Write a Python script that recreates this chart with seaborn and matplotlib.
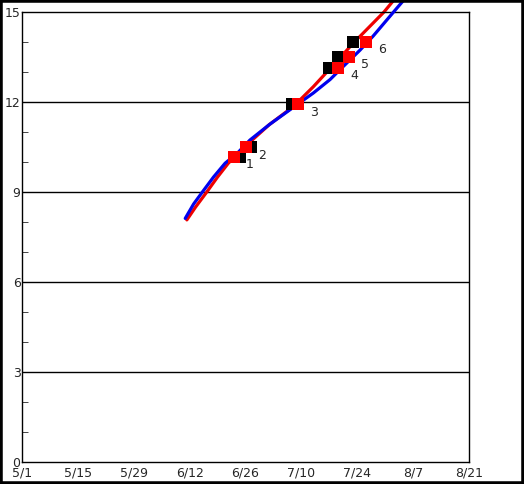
import matplotlib
matplotlib.use("Agg")
import matplotlib.pyplot as plt
import pandas as pd
import seaborn as sns

# x values are days after 5/1
BLUE_DAYS = [40.9, 43.0, 45.2, 48.0, 50.9, 54.0, 57.1, 62.0, 68.8, 73.0, 77.2,
             80.0, 84.7, 88.0, 93.1, 96.0]
BLUE_VALUES = [8.12, 8.6, 9.0, 9.5, 9.96, 10.3, 10.73, 11.25, 11.9, 12.3, 12.75,
               13.12, 13.73, 14.2, 15.0, 15.45]

RED_DAYS = [41.3, 43.5, 46.3, 49.0, 51.7, 53.5, 57.0, 62.0, 68.0, 73.0, 76.4,
            79.3, 83.0, 90.7, 93.5]
RED_VALUES = [8.07, 8.5, 9.0, 9.5, 9.96, 10.2, 10.65, 11.25, 11.85, 12.51, 13.0,
              13.42, 13.96, 15.0, 15.45]

POINT_LABELS = ["1", "2", "3", "4", "5", "6"]
RED_POINT_DAYS = [53.1, 56.1, 69.2, 79.3, 82.0, 86.2]
BLACK_POINT_DAYS = [54.6, 57.4, 67.7, 77.0, 79.3, 83.0]
POINT_VALUES = [10.17, 10.5, 11.93, 13.14, 13.51, 14.01]

X_TICKS = [0, 14, 28, 42, 56, 70, 84, 98, 112]
X_TICK_LABELS = ["5/1", "5/15", "5/29", "6/12", "6/26", "7/10", "7/24", "8/7", "8/21"]
Y_TICKS = [0, 3, 6, 9, 12, 15]

sns.set_style("white")
plt.rcParams["font.family"] = ["DejaVu Sans"]

blue = pd.DataFrame({"day": BLUE_DAYS, "value": BLUE_VALUES})
red = pd.DataFrame({"day": RED_DAYS, "value": RED_VALUES})
red_pts = pd.DataFrame({"day": RED_POINT_DAYS, "value": POINT_VALUES})
black_pts = pd.DataFrame({"day": BLACK_POINT_DAYS, "value": POINT_VALUES})

fig = plt.figure(figsize=(5.24, 4.84), dpi=100)
ax = fig.add_axes([22 / 524, 22 / 484, 447 / 524, 450 / 484])

for y in Y_TICKS[1:-1]:
    ax.axhline(y, color="black", lw=1, zorder=1)

sns.lineplot(data=red, x="day", y="value", color="#ee0000", lw=2.3, ax=ax,
             sort=False, zorder=2)
sns.lineplot(data=blue, x="day", y="value", color="#0000ee", lw=2.3, ax=ax,
             sort=False, zorder=3)
# the curves run on past the top of the frame, as in the original
for line in ax.lines[-2:]:
    line.set_clip_on(False)

sns.scatterplot(data=black_pts, x="day", y="value", color="black", marker="s",
                s=68, linewidth=0, ax=ax, zorder=4)
sns.scatterplot(data=red_pts, x="day", y="value", color="#ff0000", marker="s",
                s=68, linewidth=0, ax=ax, zorder=5)

for label, d, v in zip(POINT_LABELS, RED_POINT_DAYS, POINT_VALUES):
    ax.text(d + 4, v - 0.27, label, fontsize=9, ha="center", va="center")

ax.set_xlim(0, 112)
ax.set_ylim(0, 15)
ax.set_xticks(X_TICKS)
ax.set_xticklabels(X_TICK_LABELS)
ax.set_yticks(Y_TICKS)
ax.set_yticks([v for v in range(16) if v % 3], minor=True)
ax.tick_params(axis="both", which="major", direction="in", length=5,
               labelsize=9, color="black", pad=2)
ax.tick_params(axis="y", which="minor", direction="in", length=4, left=True)
ax.tick_params(axis="x", which="major", pad=3)
ax.tick_params(axis="y", which="major", pad=1)
ax.set_xlabel("")
ax.set_ylabel("")
for s in ax.spines.values():
    s.set_color("black")
    s.set_linewidth(1)

fig.patches.append(plt.Rectangle((0, 0), 1, 1, transform=fig.transFigure,
                                 fill=False, edgecolor="black", linewidth=4,
                                 zorder=10))

fig.savefig("out.png", dpi=100)
